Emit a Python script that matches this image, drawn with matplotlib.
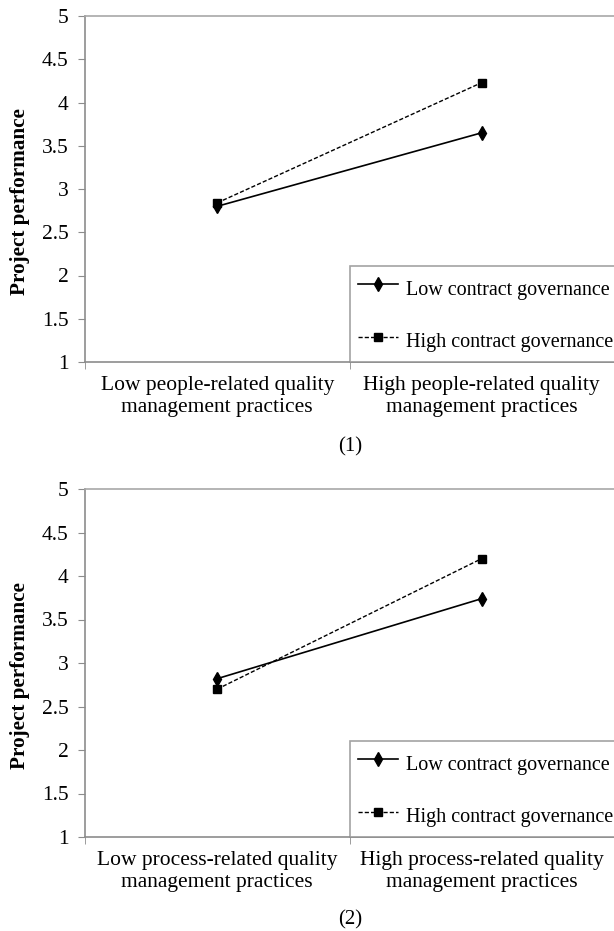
import matplotlib.pyplot as plt
from matplotlib.ticker import FixedLocator

plt.rcParams['font.family'] = ['Liberation Serif', 'DejaVu Serif']

# data
yticks = [1, 1.5, 2, 2.5, 3, 3.5, 4, 4.5, 5]
series_names = ["Low contract governance", "High contract governance"]
cats_people = ["Low people-related quality\nmanagement practices",
               "High people-related quality\nmanagement practices"]
cats_process = ["Low process-related quality\nmanagement practices",
                "High process-related quality\nmanagement practices"]
people_low = [2.80, 3.65]
people_high = [2.84, 4.23]
process_low = [2.82, 3.74]
process_high = [2.70, 4.20]
captions = ["(1)", "(2)"]

W, H = 614, 931
fig = plt.figure(figsize=(W / 100, H / 100), dpi=100)
ax1 = fig.add_axes([85 / W, 1 - 362 / H, 529 / W, 346 / H])
ax2 = fig.add_axes([85 / W, 1 - 837 / H, 529 / W, 348 / H])

grey = '#8c8c8c'
panels = [(ax1, cats_people, people_low, people_high),
          (ax2, cats_process, process_low, process_high)]

for ax, cats, low, high in panels:
    x = range(len(cats))
    ax.plot(x, low, color='black', lw=1.2, marker='d', ms=7,
            label=series_names[0])
    ax.plot(x, high, color='black', lw=1.0, ls=(0, (3, 1.5)), marker='s',
            ms=6, label=series_names[1])

    ax.set_xlim(-0.5, 1.5)
    ax.set_ylim(1, 5)
    ax.set_yticks(yticks)
    ax.set_yticklabels([f"{v:g}" for v in yticks])
    ax.set_xticks(list(x))
    ax.set_xticklabels(cats, linespacing=1.2)
    ax.xaxis.set_minor_locator(FixedLocator([-0.5, 0.5, 1.5]))
    ax.tick_params(axis='x', which='major', length=0, pad=10, labelsize=15.5)
    ax.tick_params(axis='x', which='minor', length=5, color=grey,
                   direction='out')
    ax.tick_params(axis='y', length=5, color=grey, direction='out',
                   labelsize=15.5, pad=7)

    for side in ['left', 'bottom']:
        ax.spines[side].set_color(grey)
        ax.spines[side].set_linewidth(1.2)
    ax.spines['top'].set_color('#a8a8a8')
    ax.spines['top'].set_linewidth(1.2)
    ax.spines['right'].set_visible(False)

    ax.set_ylabel("Project performance", fontsize=15.2, fontweight='bold')
    ax.yaxis.set_label_coords(-(85 - 30) / 529, 0.465)

    leg = ax.legend(loc='lower left', bbox_to_anchor=(0.5, 0),
                    frameon=True, fancybox=False, fontsize=14.5,
                    handlelength=2.0, handleheight=1.7, labelspacing=1.25,
                    borderpad=0.4, handletextpad=0.4, borderaxespad=0)
    leg.get_frame().set_edgecolor(grey)
    leg.get_frame().set_linewidth(1.2)

fig.text(350 / W, 1 - 447 / H, captions[0], ha='center', va='center',
         fontsize=15)
fig.text(350 / W, 1 - 920 / H, captions[1], ha='center', va='center',
         fontsize=15)

plt.savefig("out.png", dpi=100)
